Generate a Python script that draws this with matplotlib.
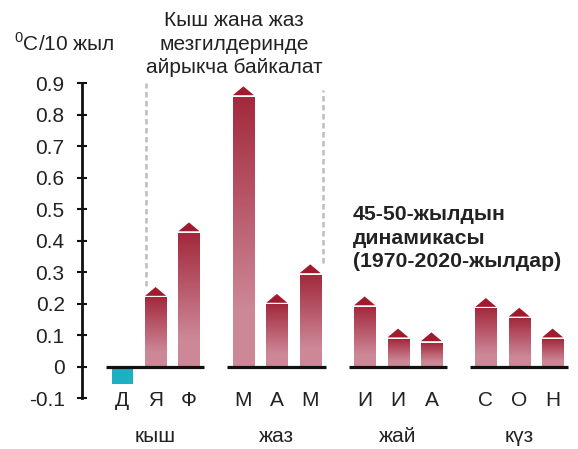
import numpy as np
import matplotlib
matplotlib.use("Agg")
import matplotlib.pyplot as plt
from matplotlib.colors import LinearSegmentedColormap
from matplotlib.patches import Polygon

plt.rcParams['font.family'] = ['Liberation Sans', 'DejaVu Sans']
plt.rcParams['mathtext.fontset'] = 'custom'
plt.rcParams['mathtext.rm'] = 'Liberation Sans'

# data (trend, degC per 10 years)
seasons = ["кыш", "жаз", "жай", "күз"]
months = [["Д", "Я", "Ф"], ["М", "А", "М"], ["И", "И", "А"], ["С", "О", "Н"]]
values = [[-0.055, 0.22, 0.425], [0.857, 0.198, 0.292], [0.19, 0.088, 0.076], [0.185, 0.154, 0.088]]
yticks = [-0.1, 0, 0.1, 0.2, 0.3, 0.4, 0.5, 0.6, 0.7, 0.8, 0.9]

group_step = 3.63
bar_w = 0.63
text_col = "#222222"
dark = "#a32a3d"
pink = "#cd8898"
arrow_col = "#a11a2e"
cyan = "#1eb0c2"
fs = 15

fig = plt.figure(figsize=(5.78, 4.49), dpi=100)
ax = fig.add_axes([82 / 578, 50.8 / 449, 496 / 578, 315 / 449])
ax.set_xlim(-1.204, 13.65)
ax.set_ylim(-0.1, 0.9)

# gradient: pink at the lower 20 %, then fading to dark red at the top
grad = np.concatenate([np.zeros(20), np.linspace(0, 1, 80)])[::-1].reshape(-1, 1)
cmap = LinearSegmentedColormap.from_list("bar", [pink, dark])

for g, (mon, vals) in enumerate(zip(months, values)):
    base = g * group_step
    ax.plot([base - 0.48, base + 2.46], [0, 0], color="#111111", lw=2.3,
            solid_capstyle="butt", zorder=5)
    for i, (m, v) in enumerate(zip(mon, vals)):
        x = base + i
        if v < 0:
            ax.bar(x, v, width=bar_w, color=cyan, zorder=3)
        else:
            ax.imshow(grad, cmap=cmap, aspect="auto", interpolation="bilinear",
                      extent=[x - bar_w / 2, x + bar_w / 2, 0, v], zorder=3)
            tri = Polygon([[x - bar_w / 2, v + 0.005], [x + bar_w / 2, v + 0.005],
                           [x, v + 0.033]], closed=True, color=arrow_col, lw=0, zorder=4)
            ax.add_patch(tri)
        ax.text(x, -0.108, m, ha="center", va="center", fontsize=fs, color=text_col)
    ax.text(base + 1, -0.222, seasons[g], ha="center", va="center",
            fontsize=fs, color=text_col)

# dashed brackets for winter / spring remark
ax.plot([0.71, 0.71], [0.256, 0.90], ls=(0, (2.2, 1.4)), color="#bdbdbd", lw=1.8)
ax.plot([6.01, 6.01], [0.33, 0.88], ls=(0, (2.2, 1.4)), color="#bdbdbd", lw=1.8)

ax.set_xticks([])
ax.set_yticks(yticks)
ax.set_yticklabels(["0" if t == 0 else f"{t:.1f}" for t in yticks])
for s in ["top", "right", "bottom"]:
    ax.spines[s].set_visible(False)
ax.spines["left"].set_linewidth(2)
ax.spines["left"].set_color("#111111")
ax.tick_params(axis="y", direction="inout", length=7, width=1.5, pad=9,
               labelsize=fs, labelcolor=text_col, color="#111111")
ax.set_facecolor("none")

fig.text(14 / 578, 1 - 43 / 449, "$^0$C/10 жыл", ha="left", va="center",
         fontsize=fs, color=text_col)
fig.text(234 / 578, 1 - 44 / 449, "Кыш жана жаз\nмезгилдеринде\nайрыкча байкалат",
         ha="center", va="center", fontsize=fs, color=text_col, linespacing=1.3)
fig.text(353 / 578, 1 - 238 / 449, "45-50-жылдын\nдинамикасы\n(1970-2020-жылдар)",
         ha="left", va="center", fontsize=15.3, fontweight="bold", color=text_col,
         linespacing=1.3)

fig.savefig("out.png", dpi=100)
